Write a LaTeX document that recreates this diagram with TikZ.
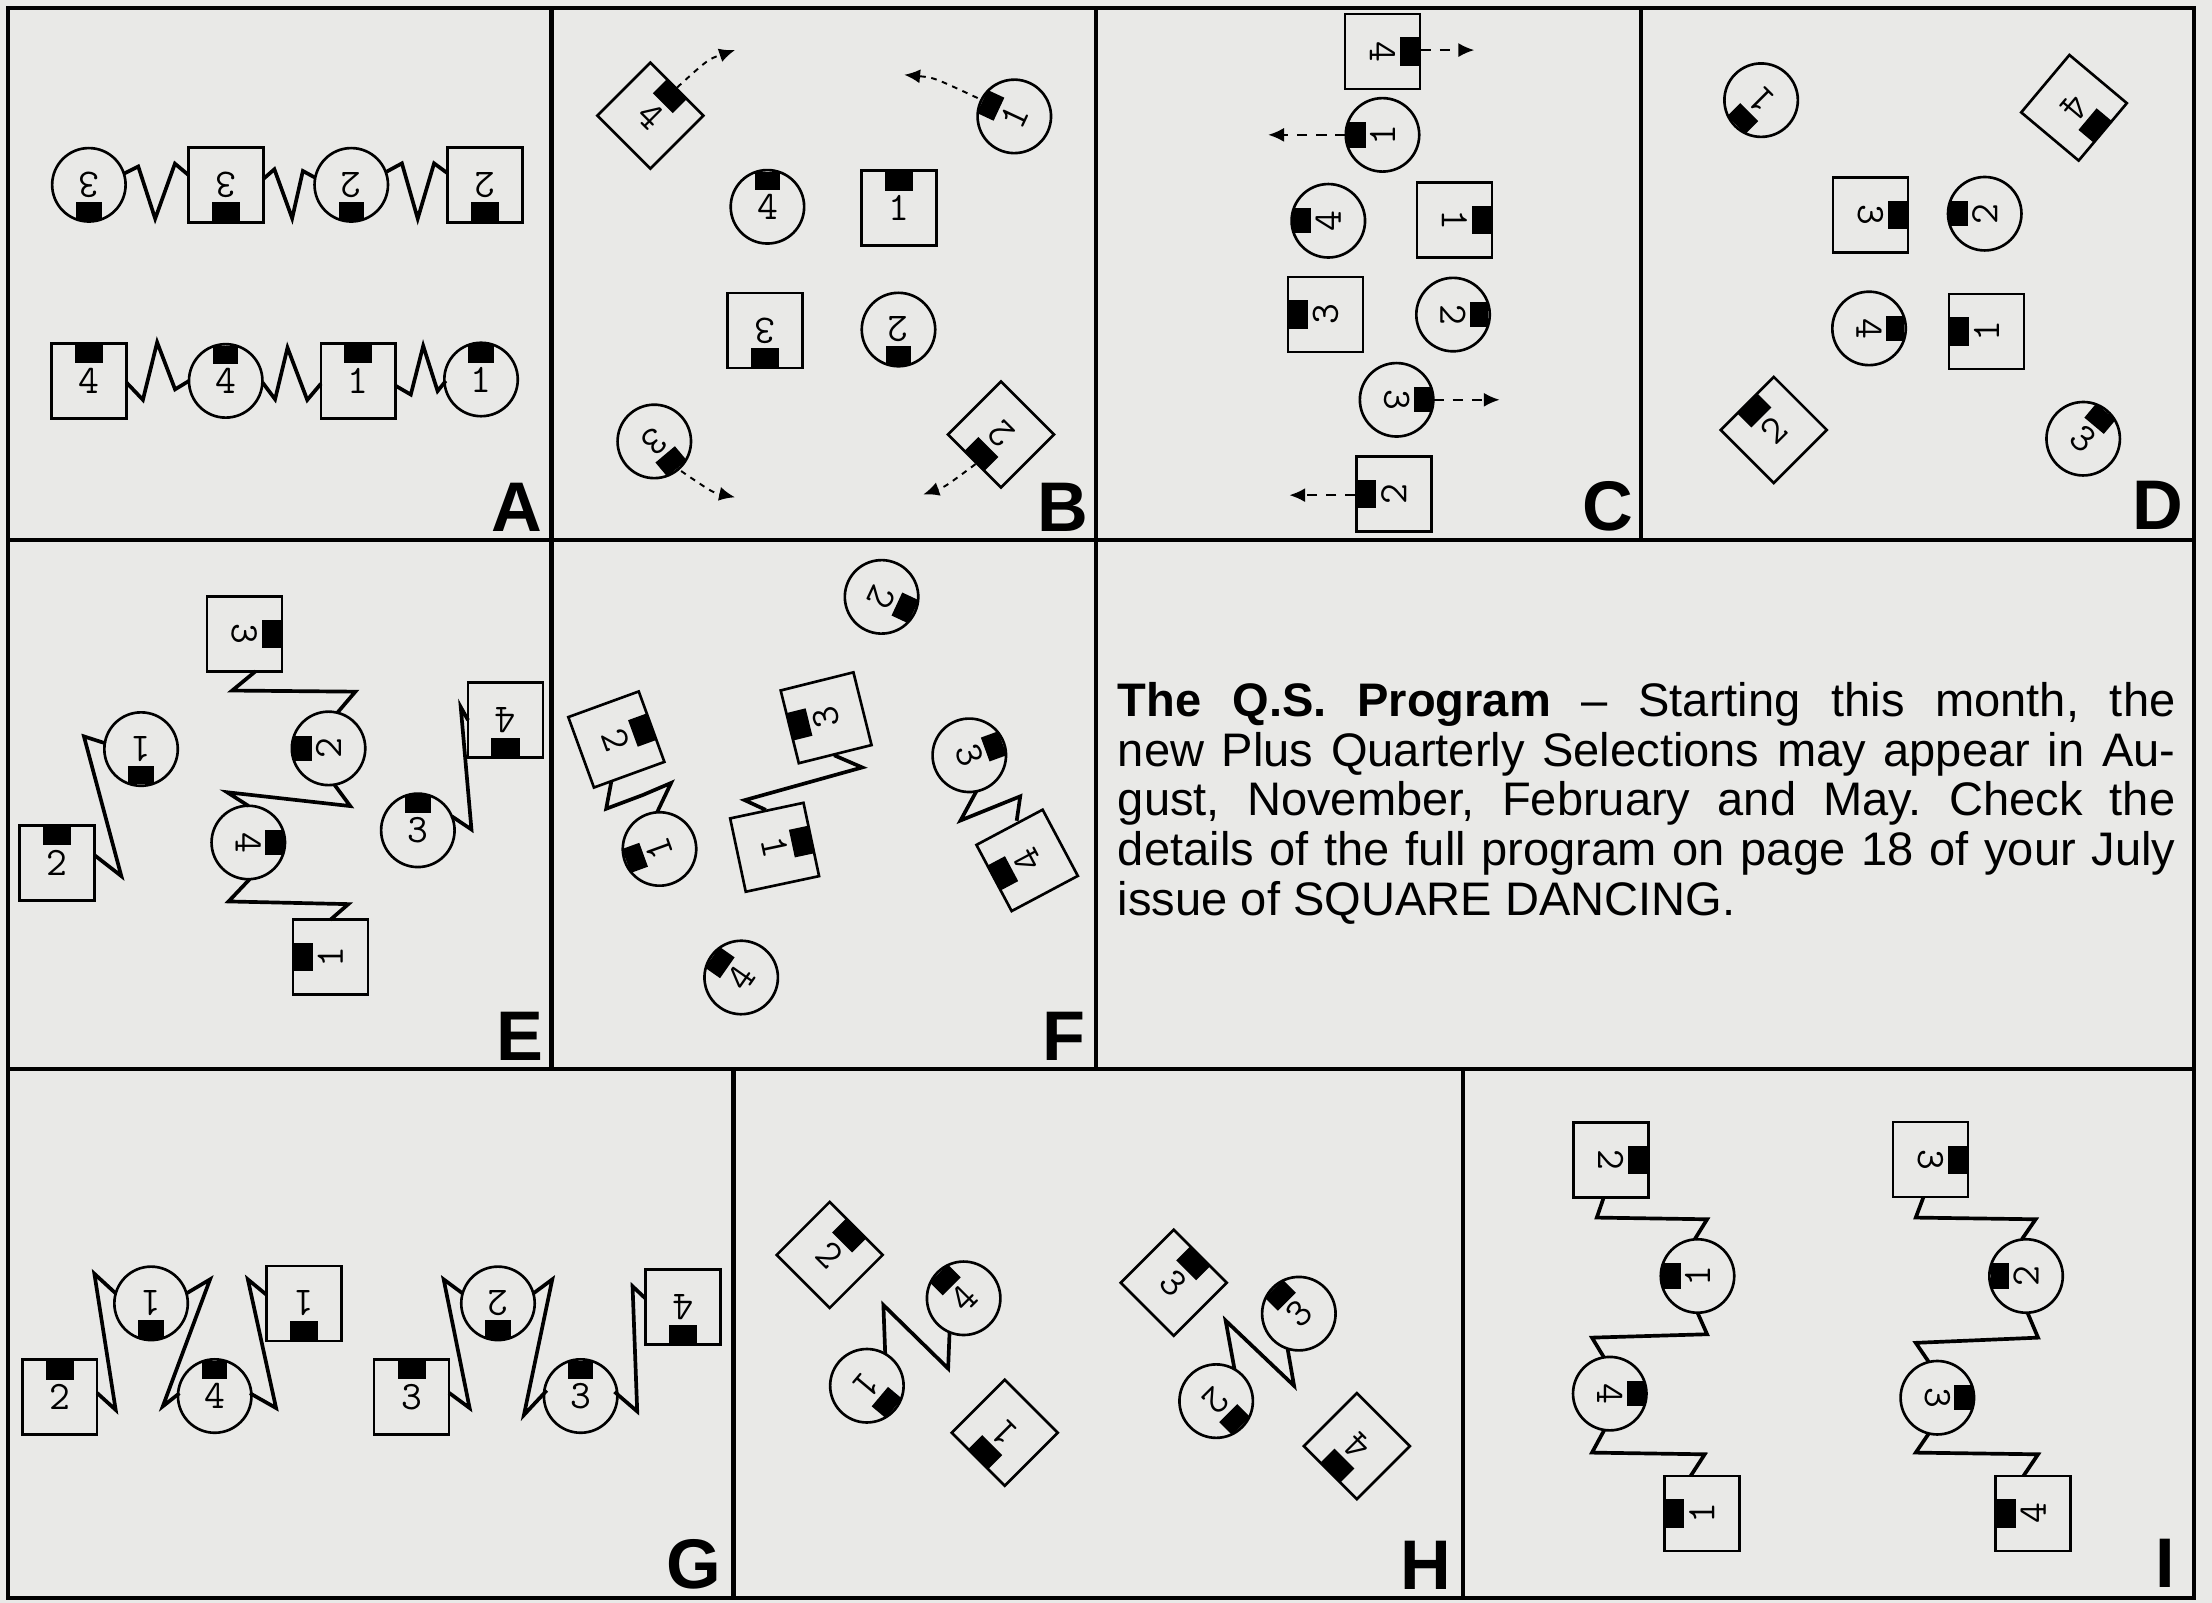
\documentclass[tikz,border=0pt]{standalone}
\usepackage{fontspec}
\usetikzlibrary{calc,arrows.meta}
\newfontfamily\notefont{Liberation Sans}
\definecolor{paper}{RGB}{233,233,231}
\newcommand\digitfont{\ttfamily\fontsize{11.5}{12}\selectfont}
\newcommand\tagfont{\notefont\bfseries\fontsize{20}{20}\selectfont}

\tikzset{
  dancer/.style={draw, line width=0.75pt, inner sep=0pt, font=\digitfont},
  gent/.style={dancer, rectangle, minimum size=0.75cm},
  lady/.style={dancer, circle, minimum size=0.735cm},
  spring/.style={line width=1.05pt, line join=miter},
  move/.style={line width=0.55pt, dash pattern=on 1.6pt off 1.6pt, -{Latex[length=4.5pt,width=4pt]}},
  tag/.style={anchor=south east, inner sep=0pt, font=\tagfont},
  frame/.style={line width=1.2pt},
  note/.style={anchor=north west, inner sep=0pt, text width=10.58cm, align=justify,
    font={\notefont\fontsize{13.4}{14.2}\selectfont\frenchspacing}}
}

% name, x, y, facing, number
\newcommand\gent[5]{%
  \node[gent, rotate=#4-90] (#1) at (#2,#3) {#5};
  \fill[shift={(#1.center)}, rotate=#4-90] (-10,-26.5) rectangle (10,-12.5);}
\newcommand\lady[5]{%
  \node[lady, rotate=#4-90] (#1) at (#2,#3) {#5};
  \fill[shift={(#1.center)}, rotate=#4-90] (-9,-25) rectangle (9,-12);}

\begin{document}
\begin{tikzpicture}[x=0.014107cm, y=-0.014107cm]
\fill[paper] (0,0) rectangle (1568,1136);
\useasboundingbox (0,0) rectangle (1568,1136);

% frames
\draw[frame] (5.5,5.5) rectangle (1555,1133);
\draw[frame] (5.5,383) -- (1555,383) (5.5,758) -- (1555,758);
\draw[frame] (391,5.5) -- (391,758) (777,5.5) -- (777,758) (1163,5.5) -- (1163,383)
  (520,758) -- (520,1133) (1037,758) -- (1037,1133);

% A
\lady{aL3}{63}{131}{270}{3}
\gent{aG3}{160}{131}{270}{3}
\lady{aL2}{249}{131}{270}{2}
\gent{aG2}{344}{131}{270}{2}
\gent{aG4}{63}{270}{90}{4}
\lady{aL4}{160}{270}{90}{4}
\gent{aG1}{254}{270}{90}{1}
\lady{aL1}{341}{269}{90}{1}
\draw[spring] ($(aL3)+(25,-8)$) -- ++(10,-5) -- ++(12,37) -- ++(14,-39) -- ($(aG3)+(-26.5,-7)$);
\draw[spring] ($(aG3)+(26.5,-4)$) -- ++(8,-7) -- ++(12.6,34.7) -- ++(7.6,-33.5) -- ($(aL2)+(-25.5,-5)$);
\draw[spring] ($(aL2)+(24.5,-9)$) -- ++(11.4,-6.2) -- ++(11.2,39.2) -- ++(11.6,-39.2) -- ($(aG2)+(-26.5,-8)$);
\draw[spring] ($(aG4)+(26.5,1)$) -- ++(11.8,12.4) -- ++(10.1,-40.7) -- ++(12.7,33.3) -- ($(aL4)+(-26,0)$);
\draw[spring] ($(aL4)+(26,1)$) -- ++(9,12) -- ++(8.8,-36.5) -- ++(14,37) -- ($(aG1)+(-26.5,2)$);
\draw[spring] ($(aG1)+(26.5,3.5)$) -- ++(10.7,6.2) -- ++(8.8,-34.5) -- ++(10.2,32) -- ($(aL1)+(-25,1)$);
\node[tag] (tagA) at (385,377) {A};

% B
\gent{bG4}{461}{82}{45}{4}
\lady{bL1}{719}{82.5}{155}{1}
\lady{bL4}{544}{146.6}{90}{4}
\gent{bG1}{637.4}{147.6}{90}{1}
\gent{bG3}{542.4}{234.3}{270}{3}
\lady{bL2}{636.9}{233.6}{270}{2}
\lady{bL3}{463.8}{312.9}{310}{3}
\gent{bG2}{709.5}{308}{225}{2}
\coordinate (bT4) at (521,35.5);
\coordinate (bT1) at (641,53);
\coordinate (bT3) at (521,352.5);
\coordinate (bT2) at (654.5,350.5);
\draw[move] ($(bG4)+(19,-20)$) .. controls (502,42) .. (bT4);
\draw[move] ($(bL1)+(-26,-13)$) .. controls (662,55) .. (bT1);
\draw[move] ($(bL3)+(19,21)$) .. controls (505,349) .. (bT3);
\draw[move] ($(bG2)+(-18,21)$) .. controls (670,345) .. (bT2);
\node[tag] (tagB) at (772,377) {B};

% C
\gent{cG4}{980}{36.5}{0}{4}
\lady{cL1}{980}{95.6}{180}{1}
\lady{cL4}{941.6}{156.5}{180}{4}
\gent{cG1}{1031}{156}{0}{1}
\gent{cG3}{939.6}{223}{180}{3}
\lady{cL2}{1030}{223}{0}{2}
\lady{cL3}{990}{283.4}{0}{3}
\gent{cG2}{988}{350}{180}{2}
\coordinate (cT4) at (1045,35.5);
\coordinate (cT1) at (899,95.6);
\coordinate (cT3) at (1063,283.4);
\coordinate (cT2) at (914,351);
\draw[move, dash pattern=on 3pt off 2.5pt] ($(cG4)+(27,-1)$) -- (cT4);
\draw[move, dash pattern=on 3pt off 2.5pt] ($(cL1)+(-26,0)$) -- (cT1);
\draw[move, dash pattern=on 3pt off 2.5pt] ($(cL3)+(26,0)$) -- (cT3);
\draw[move, dash pattern=on 3pt off 2.5pt] ($(cG2)+(-27,1)$) -- (cT2);
\node[tag] (tagC) at (1158,377) {C};

% D
\lady{dL1}{1248.4}{71}{225}{1}
\gent{dG4}{1470.2}{76.4}{320}{4}
\gent{dG3}{1325.9}{152.3}{0}{3}
\lady{dL2}{1406.9}{151.5}{180}{2}
\lady{dL4}{1324.9}{232.8}{0}{4}
\gent{dG1}{1408.2}{235}{180}{1}
\gent{dG2}{1257.4}{304.8}{135}{2}
\lady{dL3}{1476.7}{311}{50}{3}
\node[tag] (tagD) at (1548,376) {D};

% E
\gent{eG3}{173.2}{449.3}{0}{3}
\lady{eL1}{100}{531}{270}{1}
\lady{eL2}{232.9}{530.5}{180}{2}
\gent{eG4}{358.3}{510.5}{270}{4}
\gent{eG2}{40.5}{611.8}{90}{2}
\lady{eL4}{176}{597.2}{0}{4}
\lady{eL3}{296.2}{588.6}{90}{3}
\gent{eG1}{234.2}{678.5}{180}{1}
\draw[spring] ($(eG3)+(8,26.5)$) -- ++(-16.6,13.7) -- ++(87.3,0.8) -- ($(eL2)+(6,-25)$);
\draw[spring] ($(eL2)+(4,25.5)$) -- ++(11.4,15.4) -- ++(-87.3,-9.8) -- ($(eL4)+(0,-26)$);
\draw[spring] ($(eL4)+(1,26)$) -- ++(-15,15.8) -- ++(84.9,1.9) -- ($(eG1)+(0,-26.5)$);
\draw[spring] ($(eL1)+(-25,-4)$) -- ++(-15.5,-5) -- ++(26.5,99) -- ($(eG2)+(26.5,-5.6)$);
\draw[spring] ($(eL3)+(24,-10)$) -- ++(14,9.4) -- ++(-7.6,-86.8) -- ($(eG4)+(-26.5,0)$);
\node[tag] (tagE) at (386,752) {E};

% F
\lady{fL2}{624.9}{423.1}{335}{2}
\gent{fG2}{436.9}{524.2}{20}{2}
\gent{fG3}{585.6}{508.8}{194}{3}
\lady{fL3}{687.1}{535.4}{20}{3}
\lady{fL1}{467.5}{601.8}{200}{1}
\gent{fG1}{549.1}{600.6}{12}{1}
\gent{fG4}{728.1}{609.9}{208}{4}
\lady{fL4}{525.4}{692.9}{145}{4}
\draw[spring] ($(fG2)+(-3.5,29.5)$) -- ++(-3.7,19.6) -- ++(26.1,-9.8) -- ++(19.9,-8.5) -- ($(fL1)+(-1.7,-26)$);
\draw[spring] ($(fG3)+(5.7,26.6)$) -- ++(19.9,8.6) -- ++(-83.3,23.2) -- ($(fG1)+(-6.3,-26.5)$);
\draw[spring] ($(fL3)+(5,25.5)$) -- ++(-11.2,20.7) -- ++(42.3,-17.1) -- ($(fG4)+(-7.4,-28.1)$);
\node[tag] (tagF) at (770,752) {F};

% text panel
\node[note] (qs) at (792,483) {\textbf{The Q.S. Program} – Starting this month, the\linebreak
  new Plus Quarterly Selections may appear in Au-\linebreak
  gust, November, February and May. Check the\linebreak
  details of the full program on page 18 of your July\linebreak
  issue of SQUARE DANCING.};

% G
\gent{gG2}{42.3}{990.4}{90}{2}
\lady{gL1}{107.1}{923.9}{270}{1}
\lady{gL4}{152.2}{989.6}{90}{4}
\gent{gG1}{215.5}{923.9}{270}{1}
\gent{gG3}{291.8}{990.3}{90}{3}
\lady{gL2}{353}{923.9}{270}{2}
\lady{gL3}{411.6}{989.6}{90}{3}
\gent{gG4}{484.2}{926.6}{270}{4}
\draw[spring] ($(gG2)+(26.5,-3)$) -- ++(13.2,12) -- ++(-15.1,-96.5) -- ($(gL1)+(-25,-7)$);
\draw[spring] ($(gL1)+(25,-7)$) -- ++(16.8,-10) -- ++(-33.5,90) -- ($(gL4)+(-25,-2)$);
\draw[spring] ($(gL4)+(25,-2)$) -- ++(18.5,10.5) -- ++(-20,-91.2) -- ($(gG1)+(-26.5,-6)$);
\draw[spring] ($(gG3)+(26.5,-3)$) -- ++(14.6,10.8) -- ++(-18.4,-91.2) -- ($(gL2)+(-25,-7)$);
\draw[spring] ($(gL2)+(25,-7)$) -- ++(13.5,-10) -- ++(-20.1,96.1) -- ($(gL3)+(-24,-4)$);
\draw[spring] ($(gL3)+(24,-3)$) -- ++(16.1,13.9) -- ++(-3.3,-88.7) -- ($(gG4)+(-26.5,-6)$);
\node[tag] (tagG) at (512,1127) {G};

% H
\gent{hG2}{588.1}{889.6}{45}{2}
\lady{hL4}{683.1}{920.3}{135}{4}
\lady{hL1}{614.5}{982.3}{320}{1}
\gent{hG1}{712.2}{1015.6}{225}{1}
\gent{hG3}{832}{909.3}{45}{3}
\lady{hL3}{920.7}{931.2}{135}{3}
\lady{hL2}{862.1}{993.2}{315}{2}
\gent{hG4}{961.8}{1025.1}{225}{4}
\draw[spring] ($(hL1)+(13,-22.5)$) -- ++(-1.3,-34.7) -- ++(45.9,45) -- ($(hL4)+(-10,24)$);
\draw[spring] ($(hL2)+(13,-22.5)$) -- ++(-6.3,-34.6) -- ++(48.5,46.2) -- ($(hL3)+(-8,24.7)$);
\node[tag] (tagH) at (1029,1127) {H};

% I
\gent{iG2}{1141.8}{822.4}{0}{2}
\lady{iL1}{1203.3}{904.5}{180}{1}
\lady{iL4}{1141.1}{987.9}{0}{4}
\gent{iG1}{1206.4}{1072.8}{180}{1}
\gent{iG3}{1368.5}{822}{0}{3}
\lady{iL2}{1436.2}{904.5}{180}{2}
\lady{iL3}{1373.3}{990.8}{0}{3}
\gent{iG4}{1441.3}{1072.8}{180}{4}
\draw[spring] ($(iG2)+(-5,26.5)$) -- ++(-4.9,14.2) -- ++(78.2,1.2) -- ($(iL1)+(-2,-26)$);
\draw[spring] ($(iL1)+(0,26)$) -- ++(6.8,15.3) -- ++(-81.6,2.4) -- ($(iL4)+(-4,-25.5)$);
\draw[spring] ($(iL4)+(-4,26)$) -- ++(-8.6,15.8) -- ++(79.9,1.2) -- ($(iG1)+(-8,-26.5)$);
\draw[spring] ($(iG3)+(-5,26.5)$) -- ++(-5.5,14.6) -- ++(85,1.2) -- ($(iL2)+(-3,-26)$);
\draw[spring] ($(iL2)+(1,26)$) -- ++(7.5,17.7) -- ++(-86.7,3.7) -- ($(iL3)+(-6,-25.3)$);
\draw[spring] ($(iL3)+(-6,25.3)$) -- ++(-9.3,13.6) -- ++(86.7,1.2) -- ($(iG4)+(-7,-26.5)$);
\node[tag] (tagI) at (1542,1126) {I};
\end{tikzpicture}
\end{document}
